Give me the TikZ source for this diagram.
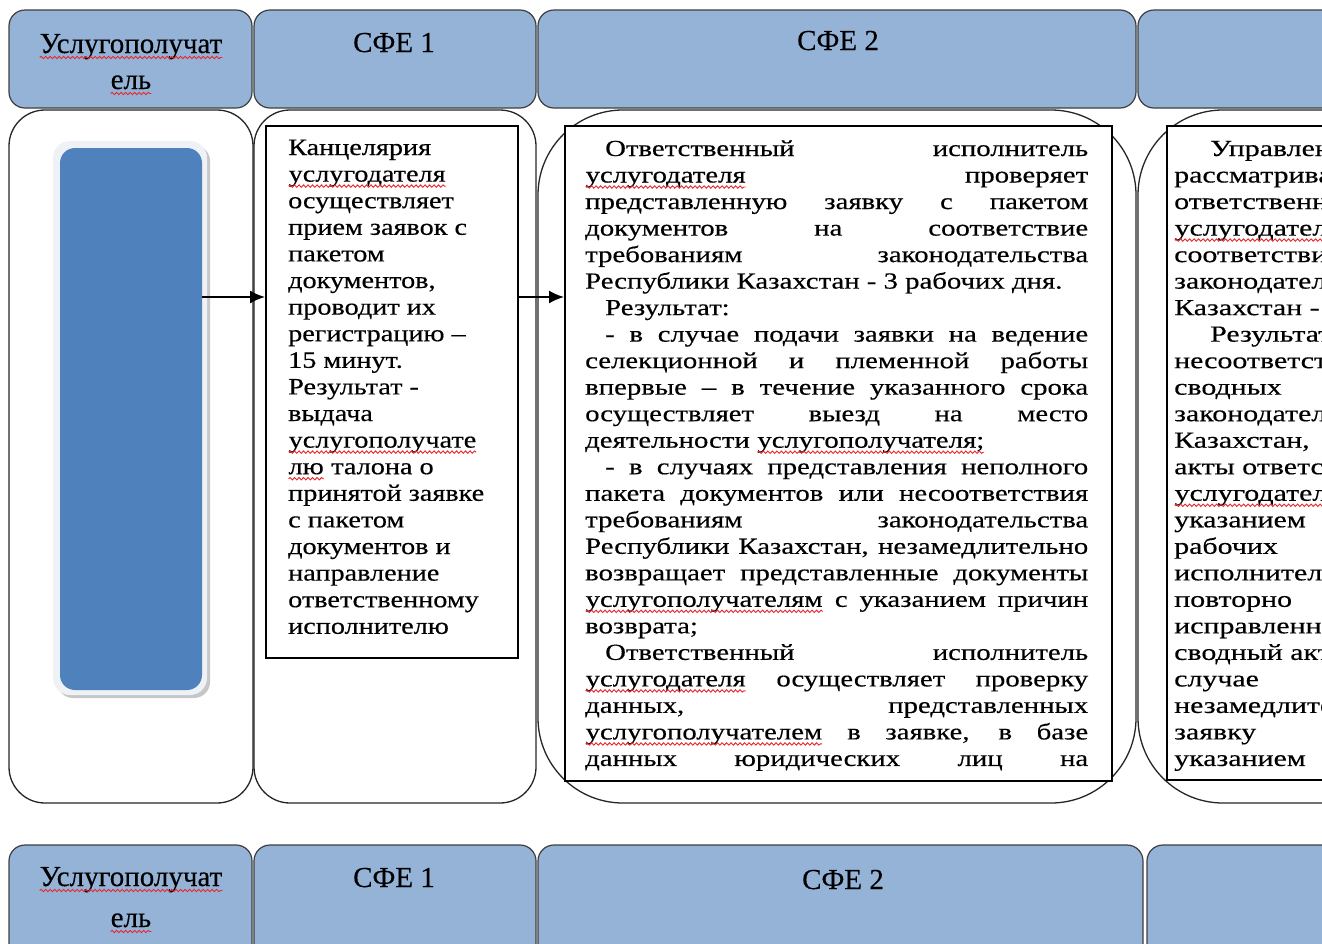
\documentclass[tikz,border=0pt]{standalone}
\usepackage{fontspec}
\setmainfont{Liberation Serif}
\newfontfamily\bodyfont[FakeStretch=1.25,FakeBold=0.4]{Liberation Serif}
\newfontfamily\sfeafont[FakeStretch=1.2,FakeBold=0.4]{Liberation Serif}
\newfontfamily\colfourfont[FakeStretch=1.3,FakeBold=0.4]{Liberation Serif}
\newfontfamily\hdrfont[FakeBold=0.3]{Liberation Serif}
\usetikzlibrary{arrows.meta,decorations.pathmorphing}
\definecolor{hdrfill}{HTML}{95B3D7}
\definecolor{boxblue}{HTML}{4F81BD}
\definecolor{hdrline}{HTML}{3F3F3F}
\definecolor{glow}{HTML}{EEF1F6}
\definecolor{spellred}{HTML}{E8262B}
\newcommand\sperr[1]{\tikz[baseline=0pt,x=1pt,y=1pt]{\node[inner sep=0pt,outer sep=0pt,anchor=base west,draw=none,fill=none,minimum width=0pt,minimum height=0pt] (spw) at (0,0) {#1};\draw[spellred, line width=0.9pt, decorate, decoration={snake, amplitude=1.2pt, segment length=4.5pt}] ([yshift=-4.5pt]spw.base west) -- ([yshift=-4.5pt]spw.base east);}}
\newlength\jlw
\setlength\jlw{503pt}
\newcommand\justln[1]{\hbox to \jlw{#1}}
\newcommand\lastln[1]{\hbox to \jlw{#1\hfil}}
\newcommand\ind{\hskip 20pt}
\newcommand\indf{\hskip 36pt}
\tikzset{
  hdr/.style={fill=hdrfill, draw=hdrline, line width=1.2pt, rounded corners=16pt},
  lane/.style={draw=black!85, line width=1.3pt},
  tbox/.style={draw=black, line width=1.6pt, fill=white, inner sep=0pt, anchor=north west},
  hdrtext/.style={font=\hdrfont\fontsize{29}{36}\selectfont, inner sep=0pt, anchor=base},
  arr/.style={-{Latex[length=15pt,width=13pt]}, line width=1.8pt},
}
\begin{document}
\begin{tikzpicture}[x=1pt,y=-1pt]
\useasboundingbox (0,0) rectangle (1322,943);
\fill[white] (0,0) rectangle (1322,943);
\begin{scope}
\clip (0,0) rectangle (1322,943);
% lanes
\draw[lane, rounded corners=36pt] (9,110) rectangle (253,803);
\draw[lane, rounded corners=36pt] (254,110) rectangle (536,803);
\draw[lane, rounded corners=85pt] (538,110) rectangle (1136,803);
\draw[lane, rounded corners=85pt] (1138,110) rectangle (1500,803);
% top headers
\draw[hdr] (9,10) rectangle (252,108);
\draw[hdr] (254,10) rectangle (536,108);
\draw[hdr] (538,10) rectangle (1136,108);
\draw[hdr] (1138,10) rectangle (1500,108);
\node[hdrtext] (h1a) at (131,53) {\sperr{Услугополучат}};
\node[hdrtext] (h1b) at (131,89) {\sperr{ель}};
\node[hdrtext] (h2) at (394,52) {СФЕ 1};
\node[hdrtext] (h3) at (838,50) {СФЕ 2};
% bottom headers
\draw[hdr] (9,845) rectangle (252,1000);
\draw[hdr] (254,845) rectangle (536,1000);
\draw[hdr] (538,845) rectangle (1143,1000);
\draw[hdr] (1147,845) rectangle (1500,1000);
\node[hdrtext] (b1a) at (131,886) {\sperr{Услугополучат}};
\node[hdrtext] (b1b) at (131,927) {\sperr{ель}};
\node[hdrtext] (b2) at (394,887) {СФЕ 1};
\node[hdrtext] (b3) at (843,889) {СФЕ 2};
% client box
\fill[black!22, rounded corners=16pt] (57,145) rectangle (210,698);
\fill[glow, rounded corners=17pt] (53,141) rectangle (207,695);
\node[fill=boxblue, rounded corners=15pt, minimum width=142pt, minimum height=542pt, inner sep=0pt] (client) at (131,419) {};
% SFE1 box
\node[tbox, minimum width=252pt, minimum height=532pt] (sfe1box) at (265,125) {};
\node[anchor=base west, inner sep=0pt, font=\sfeafont\fontsize{23.5}{26.6}\selectfont] (sfe1text) at (288,155) {\vtop{\baselineskip=26.6pt\lineskiplimit=-50pt\lineskip=0pt
\hbox{Канцелярия}
\hbox{\sperr{услугодателя}}
\hbox{осуществляет}
\hbox{прием заявок с}
\hbox{пакетом}
\hbox{документов,}
\hbox{проводит их}
\hbox{регистрацию –}
\hbox{15 минут.}
\hbox{Результат -}
\hbox{выдача}
\hbox{\sperr{услугополучате}}
\hbox{\sperr{лю} талона о}
\hbox{принятой заявке}
\hbox{с пакетом}
\hbox{документов и}
\hbox{направление}
\hbox{ответственному}
\hbox{исполнителю}}};
% SFE2 box
\node[tbox, line width=2pt, minimum width=547pt, minimum height=655pt] (sfe2box) at (564,125) {};
\begin{scope}
\clip (565,126) rectangle (1110,776);
\node[anchor=base west, inner sep=0pt, font=\bodyfont\fontsize{23}{26.5}\selectfont] (sfe2text) at (585,156) {\vtop{\baselineskip=26.52pt\lineskiplimit=-50pt\lineskip=0pt
\justln{\ind Ответственный исполнитель}
\justln{\sperr{услугодателя} проверяет}
\justln{представленную заявку с пакетом}
\justln{документов на соответствие}
\justln{требованиям законодательства}
\lastln{Республики Казахстан - 3 рабочих дня.}
\lastln{\ind Результат:}
\justln{\ind - в случае подачи заявки на ведение}
\justln{селекционной и племенной работы}
\justln{впервые – в течение указанного срока}
\justln{осуществляет выезд на место}
\lastln{деятельности \sperr{услугополучателя;}}
\justln{\ind - в случаях представления неполного}
\justln{пакета документов или несоответствия}
\justln{требованиям законодательства}
\justln{Республики Казахстан, незамедлительно}
\justln{возвращает представленные документы}
\justln{\sperr{услугополучателям} с указанием причин}
\lastln{возврата;}
\justln{\ind Ответственный исполнитель}
\justln{\sperr{услугодателя} осуществляет проверку}
\justln{данных, представленных}
\justln{\sperr{услугополучателем} в заявке, в базе}
\justln{данных юридических лиц на}}};
\end{scope}
% column 4 box
\node[tbox, minimum width=300pt, minimum height=654pt] (col4box) at (1166,125) {};
\begin{scope}
\clip (1167,126) rectangle (1322,779);
\node[anchor=base west, inner sep=0pt, font=\colfourfont\fontsize{23}{26.5}\selectfont] (col4text) at (1174,156) {\vtop{\baselineskip=26.52pt\lineskiplimit=-50pt\lineskip=0pt
\hbox{\indf Управление}
\hbox{рассматривает}
\hbox{ответственного}
\hbox{\sperr{услугодателя}}
\hbox{соответствии}
\hbox{законодательства}
\hbox{Казахстан - 3 рабочих}
\hbox{\indf Результат:}
\hbox{несоответствия}
\hbox{сводных}
\hbox{законодательства}
\hbox{Казахстан,}
\hbox{акты ответственного}
\hbox{\sperr{услугодателя}}
\hbox{указанием}
\hbox{рабочих}
\hbox{исполнителя}
\hbox{повторно}
\hbox{исправленный}
\hbox{сводный акт}
\hbox{случае}
\hbox{незамедлительно}
\hbox{заявку}
\hbox{указанием}}};
\end{scope}
% connectors
\coordinate (r1) at (0,297);
\draw[arr] (client.east |- r1) -- (sfe1box.west |- r1);
\draw[arr] (sfe1box.east |- r1) -- (sfe2box.west |- r1);
\end{scope}
\end{tikzpicture}
\end{document}
